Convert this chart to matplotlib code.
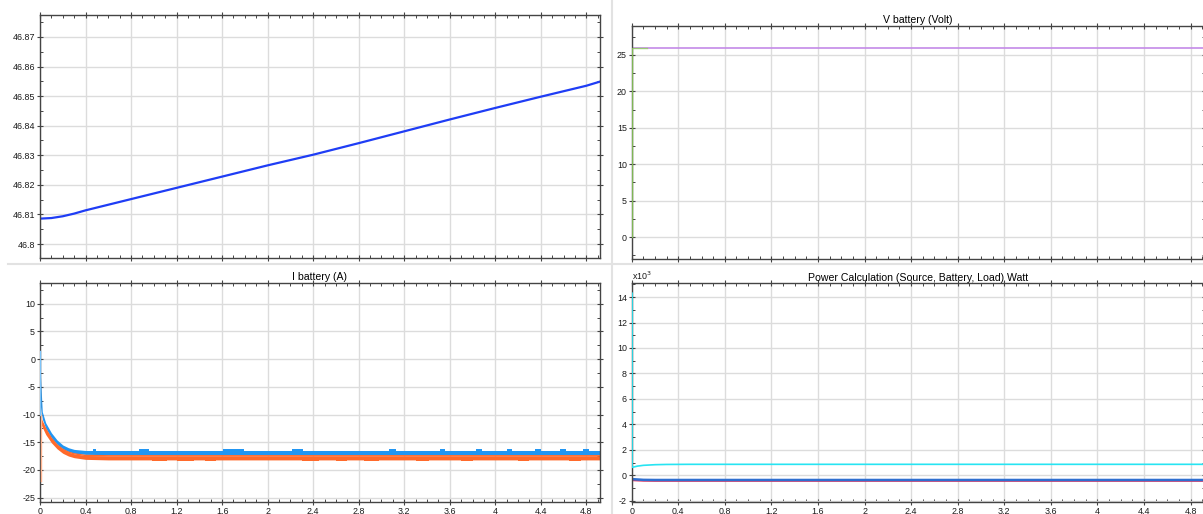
import matplotlib
matplotlib.use("Agg")
import matplotlib.pyplot as plt
from matplotlib.lines import Line2D
from matplotlib.ticker import MultipleLocator, FuncFormatter

plt.rcParams["font.family"] = ["Liberation Sans", "DejaVu Sans"]

T_END = 4.92

# state of charge (%)
soc_t = [0, 0.1, 0.2, 0.3, 0.4, 0.8, 1.2, 1.6, 2.0, 2.4, 2.8, 3.2, 3.6, 4.0, 4.4, 4.8, 4.92]
soc = [46.8086, 46.8088, 46.8094, 46.8103, 46.8114, 46.8152, 46.8190, 46.8228,
       46.8266, 46.8302, 46.8341, 46.8381, 46.8421, 46.8460, 46.8498, 46.8535, 46.8549]

# battery voltage
vb_t = [0, 4.92]
vb = [26.0, 26.0]
vb_start_t = [0.003, 0.003, 0.13]
vb_start = [0.0, 25.9, 25.9]

# battery current, envelopes of the switching ripple
ib_t = [0, 0.004, 0.02, 0.05, 0.1, 0.15, 0.2, 0.25, 0.3, 0.4, 0.6, 4.92]
ib_blue_hi = [1.5, -3.0, -9.5, -11.5, -13.3, -14.6, -15.5, -16.0, -16.3, -16.5, -16.5, -16.5]
ib_blue_lo = [-2.0, -8.5, -10.8, -12.5, -14.2, -15.4, -16.2, -16.7, -17.0, -17.2, -17.25, -17.25]
ib_orange_hi = [-10.0, -10.5, -11.3, -12.6, -14.3, -15.5, -16.3, -16.8, -17.1, -17.4, -17.45, -17.45]
ib_orange_lo = [-11.0, -11.5, -12.3, -13.6, -15.1, -16.2, -17.0, -17.5, -17.8, -18.1, -18.2, -18.2]
ib_blue_spike = [1.5, -10.0]
ib_orange_spike = [-10.0, -22.0]
blue_bumps = [(0.47, 0.49), (0.87, 0.96), (1.61, 1.79), (2.21, 2.31), (3.07, 3.13),
              (3.51, 3.56), (3.83, 3.88), (4.10, 4.15), (4.35, 4.40), (4.57, 4.62), (4.77, 4.82)]
blue_bump_top = -16.25
orange_dips = [(0.98, 1.12), (1.20, 1.35), (1.45, 1.55), (2.30, 2.45), (2.60, 2.70),
               (2.85, 2.98), (3.30, 3.42), (3.70, 3.80), (4.20, 4.30), (4.65, 4.75)]
orange_dip_low = -18.4

# power flows (W)
p_src_t = [0.003, 0.003, 0.05, 0.1, 0.2, 0.3, 0.5, 4.92]
p_src = [14300, 620, 720, 780, 830, 850, 860, 860]
p_bat_t = [0, 0.1, 0.2, 4.92]
p_bat = [-300, -360, -370, -370]
p_load_t = [0, 0.1, 0.2, 4.92]
p_load = [-400, -440, -450, -450]

W, H = 1203, 514
fig = plt.figure(figsize=(W / 100, H / 100), dpi=100)
fig.patch.set_facecolor("white")


def px_axes(x0, y0, x1, y1):
    return fig.add_axes([x0 / W, 1 - y1 / H, (x1 - x0) / W, (y1 - y0) / H])


fmt = FuncFormatter(lambda v, p: f"{round(v, 6):g}")


def style(ax, ymajor, yminor, xlabels):
    ax.set_xlim(0, T_END)
    ax.xaxis.set_major_locator(MultipleLocator(0.4))
    ax.xaxis.set_minor_locator(MultipleLocator(0.1))
    ax.yaxis.set_major_locator(MultipleLocator(ymajor))
    ax.yaxis.set_minor_locator(MultipleLocator(yminor))
    ax.xaxis.set_major_formatter(fmt)
    ax.yaxis.set_major_formatter(fmt)
    ax.grid(True, which="major", color="#dcdcdc", lw=1)
    ax.set_axisbelow(True)
    ax.tick_params(which="both", top=True, right=True,
                   colors="#444444", labelcolor="#1a1a1a", labelsize=6.4, pad=1)
    ax.tick_params(which="major", direction="inout", length=5, width=0.8)
    ax.tick_params(which="minor", direction="in", length=2, width=0.7)
    ax.tick_params(axis="x", labelbottom=xlabels)
    for s in ax.spines.values():
        s.set_color("#444444")
        s.set_linewidth(1)


# state of charge
ax1 = px_axes(40, 15, 600, 258)
ax1.plot(soc_t, soc, color="#1f3df5", lw=1.6)
ax1.set_ylim(46.7953, 46.8774)
style(ax1, 0.01, 0.005, False)

# battery voltage
ax2 = px_axes(631.7, 25.7, 1204.5, 259)
ax2.plot(vb_t, vb, color="#c48ae8", lw=1.2)
ax2.plot(vb_start_t, vb_start, color="#8fd45a", lw=1, alpha=0.8, zorder=3)
ax2.set_ylim(-3, 29)
style(ax2, 5, 2.5, False)
ax2.set_title("V battery (Volt)", fontsize=7.6, pad=2)

# battery current
ax3 = px_axes(40, 282.7, 600, 502)
ax3.fill_between(ib_t, ib_orange_lo, ib_orange_hi, color="#ff6a2b", lw=0)
for a, b in orange_dips:
    ax3.fill_between([a, b], orange_dip_low, -17.8, color="#ff6a2b", lw=0)
ax3.plot(ib_t, ib_orange_hi, color="#ff6a2b", lw=1)
ax3.plot([0.006, 0.006], ib_orange_spike, color="#ffb48f", lw=1, zorder=3)
ax3.fill_between(ib_t, ib_blue_lo, ib_blue_hi, color="#2196f3", lw=0)
ax3.plot([0.004, 0.004], ib_blue_spike, color="#7cc4fa", lw=1, zorder=3)
for a, b in blue_bumps:
    ax3.fill_between([a, b], -16.9, blue_bump_top, color="#2196f3", lw=0)
ax3.set_ylim(-25.8, 13.8)
style(ax3, 5, 2.5, True)
ax3.set_title("I battery (A)", fontsize=7.6, pad=2)

# power balance
ax4 = px_axes(631.7, 283.3, 1204.5, 502)
ax4.plot(p_src_t, [p / 1e3 for p in p_src], color="#27e4f2", lw=1.2, zorder=3)
ax4.plot(p_load_t, [p / 1e3 for p in p_load], color="#e0305a", lw=1.2)
ax4.plot(p_bat_t, [p / 1e3 for p in p_bat], color="#2f6fd0", lw=1.8)
ax4.set_ylim(-2.1, 15.08)
style(ax4, 2, 1, True)
ax4.set_title("Power Calculation (Source, Battery, Load) Watt", fontsize=7.6, pad=2)
ax4.text(0, 1.005, r"x10$^3$", transform=ax4.transAxes, fontsize=6.4,
         color="#1a1a1a", ha="left", va="bottom")

# panel separators
fig.add_artist(Line2D([8 / W, 1], [1 - 264 / H] * 2, color="#e2e2e2", lw=1.5,
                      transform=fig.transFigure))
fig.add_artist(Line2D([611.7 / W] * 2, [0, 1], color="#e2e2e2", lw=1.5,
                      transform=fig.transFigure))

fig.savefig("out.png", dpi=100)
